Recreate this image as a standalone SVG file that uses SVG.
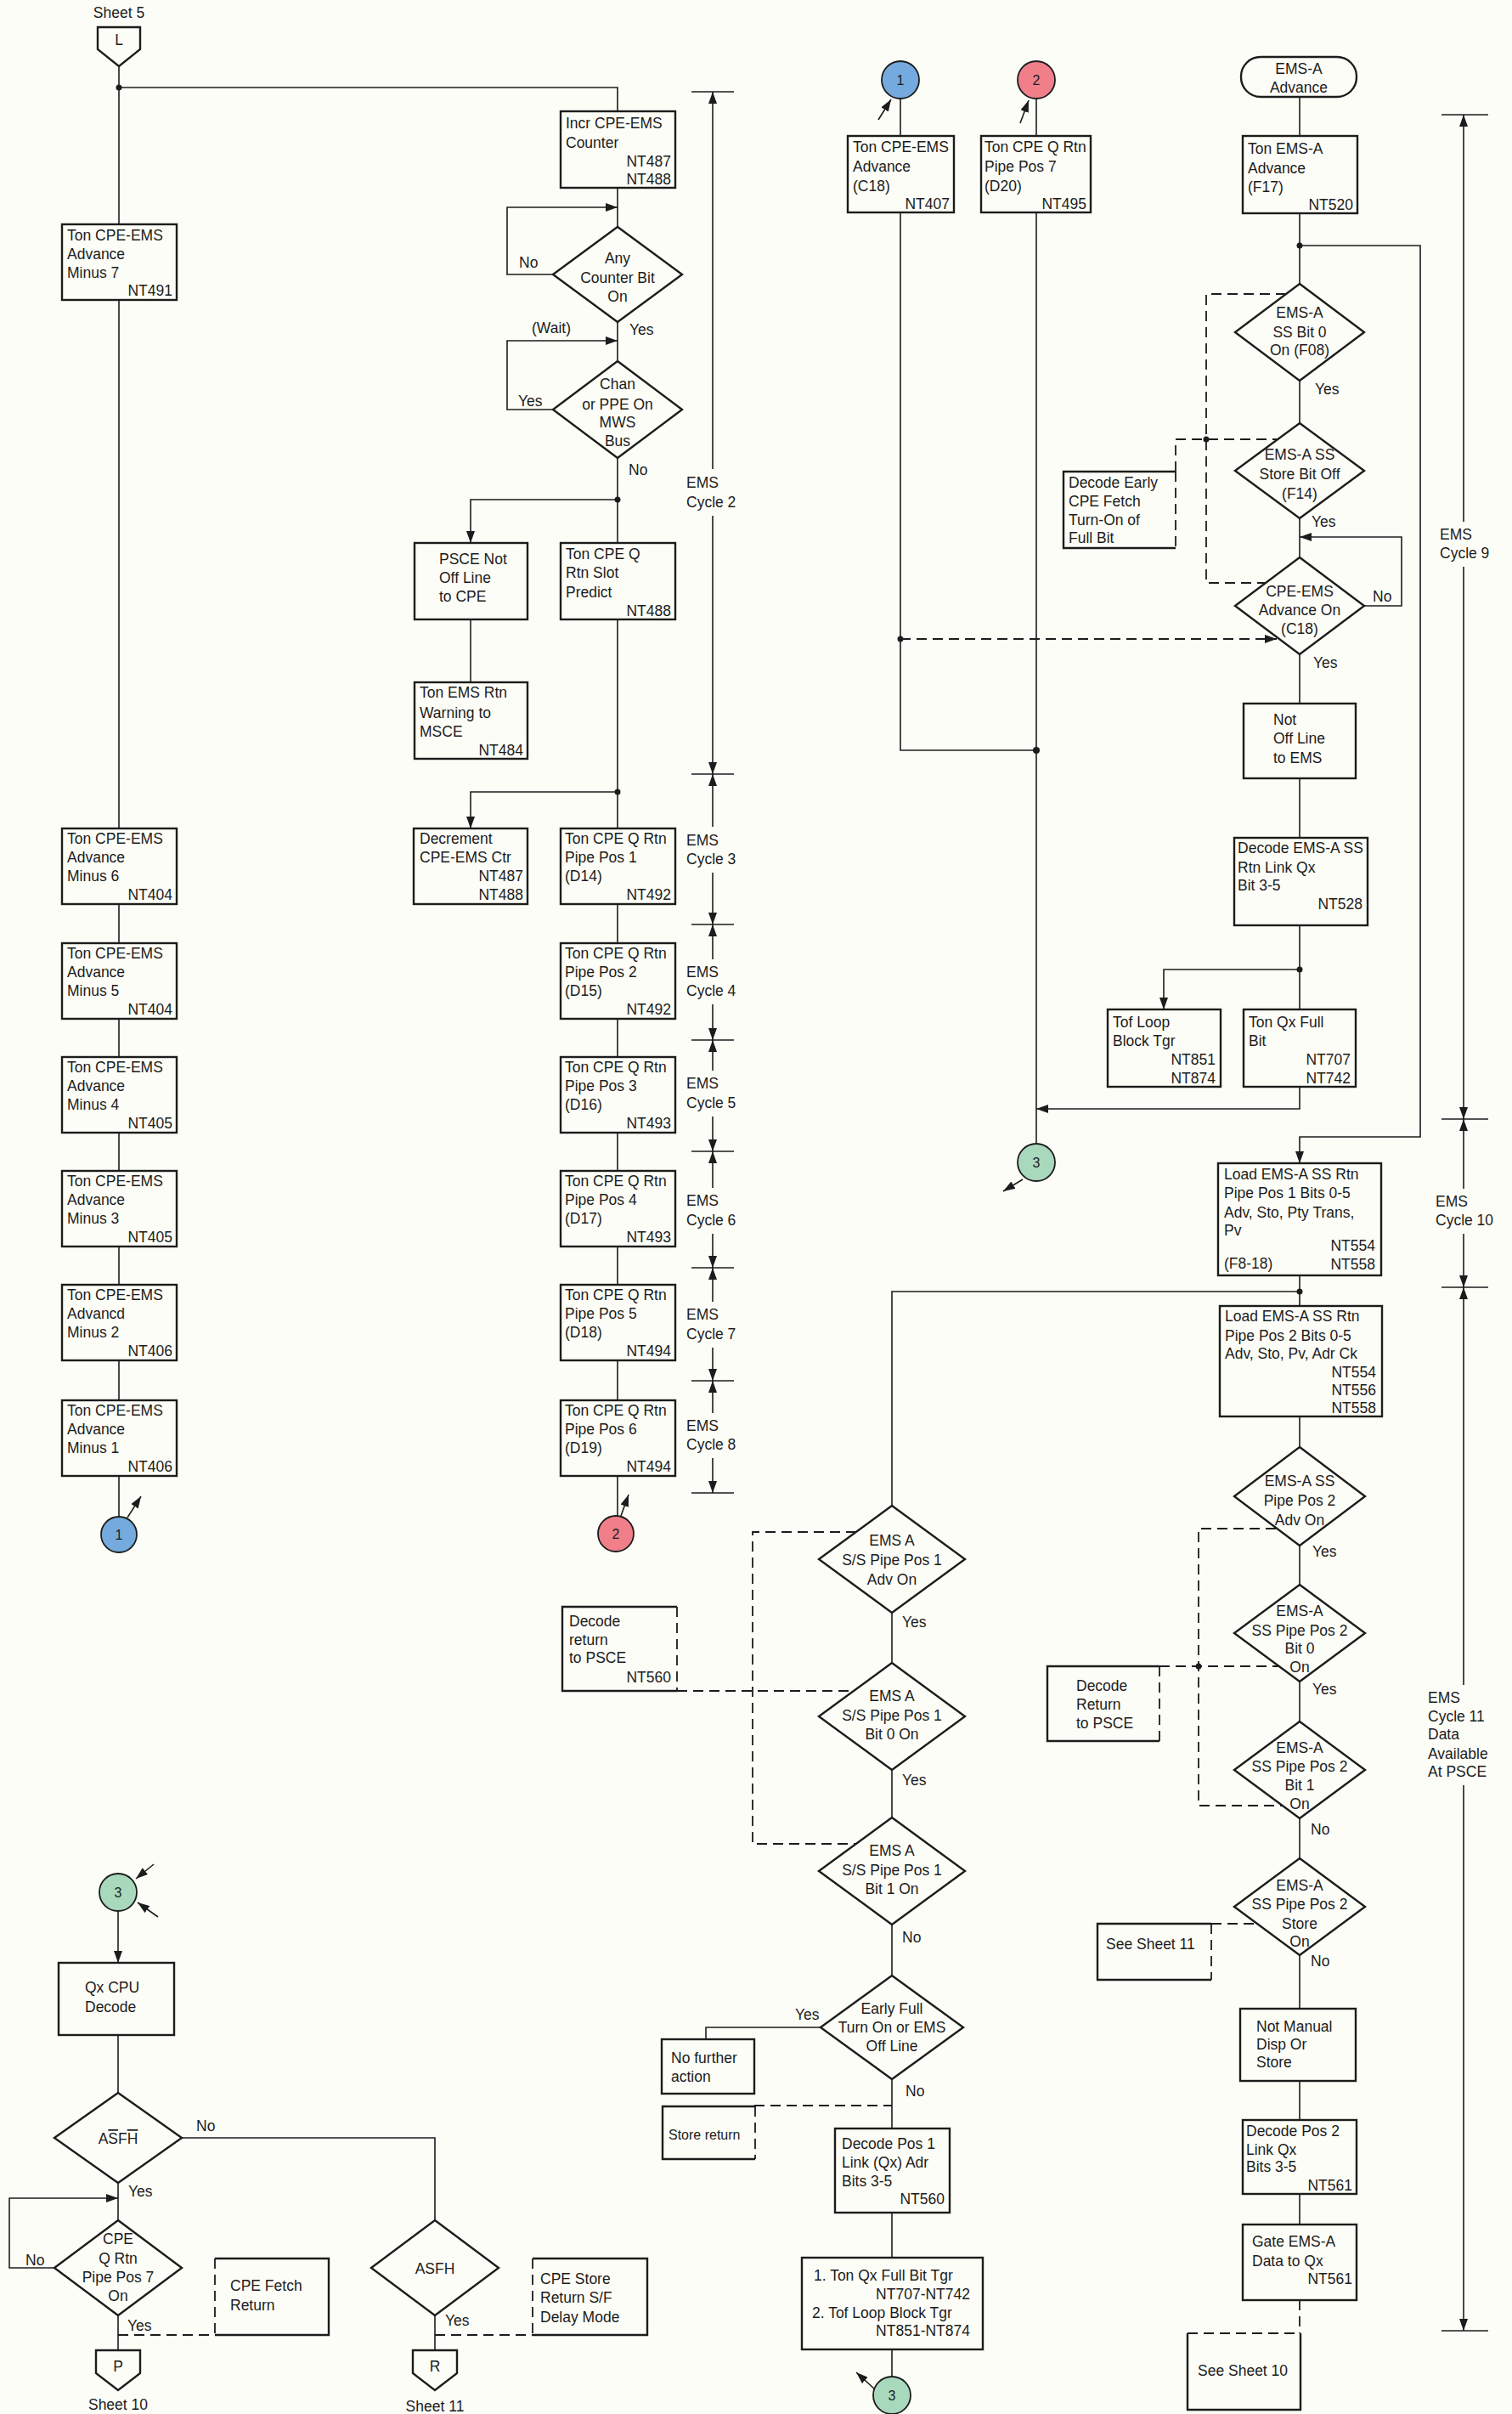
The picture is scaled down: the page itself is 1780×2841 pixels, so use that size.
<svg xmlns="http://www.w3.org/2000/svg" width="1780" height="2841" viewBox="0 0 1780 2841">
<defs>
<style>
.bx{fill:none;stroke:#1c1c1c;stroke-width:2.4}
.ln{fill:none;stroke:#1c1c1c;stroke-width:1.6}
.ds{fill:none;stroke:#1c1c1c;stroke-width:1.8;stroke-dasharray:12 7}
.t{font-family:"Liberation Sans",Arial,sans-serif;font-size:17.5px;fill:#1c1c1c}
.s{font-size:16px}
.e{text-anchor:end}
.m{text-anchor:middle}
.dot{fill:#1c1c1c}
.blue{fill:#74aade;stroke:#1c1c1c;stroke-width:1.8}
.red{fill:#f07f8a;stroke:#1c1c1c;stroke-width:1.8}
.green{fill:#a9d9bd;stroke:#1c1c1c;stroke-width:1.8}
</style>
<marker id="ah" viewBox="0 0 14 10" refX="14" refY="5" markerWidth="14" markerHeight="10" markerUnits="userSpaceOnUse" orient="auto"><path d="M0,0 L14,5 L0,10 z" fill="#1c1c1c"/></marker>
</defs>
<rect x="0" y="0" width="1780" height="2841" fill="#fdfdf7"/>

<g id="connectors">
<path class="ln" d="M140,78 V264"/>
<path class="ln" d="M140,103 H727 V131"/>
<circle class="dot" cx="140" cy="103" r="3.5"/>
<path class="ln" d="M140,353 V975 M140,1064 V1110 M140,1199 V1244 M140,1333 V1378 M140,1467 V1512 M140,1601 V1648 M140,1737 V1785"/>
<path class="ln" d="M150,1786 L166,1761" marker-end="url(#ah)"/>
<path class="ln" d="M727,221 V267"/>
<path class="ln" d="M651,323 H597 V244 H727" marker-end="url(#ah)"/>
<path class="ln" d="M727,379 V425"/>
<path class="ln" d="M651,482 H597 V401 H727" marker-end="url(#ah)"/>
<path class="ln" d="M727,539 V639"/>
<circle class="dot" cx="727" cy="588" r="3.5"/>
<path class="ln" d="M727,588 H554 V639" marker-end="url(#ah)"/>
<path class="ln" d="M554,729 V803"/>
<path class="ln" d="M727,729 V975"/>
<circle class="dot" cx="727" cy="932" r="3.5"/>
<path class="ln" d="M727,932 H554 V975" marker-end="url(#ah)"/>
<path class="ln" d="M727,1064 V1110 M727,1199 V1244 M727,1333 V1378 M727,1467 V1512 M727,1601 V1648 M727,1737 V1784"/>
<path class="ln" d="M731,1784 L740,1759" marker-end="url(#ah)"/>
<path class="ln" d="M814,108 H864 M814,911 H864 M814,1088 H864 M814,1224 H864 M814,1355 H864 M814,1492 H864 M814,1625 H864 M814,1757 H864"/>
<path class="ln" d="M839,552 V108" marker-end="url(#ah)"/>
<path class="ln" d="M839,607 V911" marker-end="url(#ah)"/>
<path class="ln" d="M839,973 V911" marker-end="url(#ah)"/>
<path class="ln" d="M839,1027 V1088" marker-end="url(#ah)"/>
<path class="ln" d="M839,1129 V1088" marker-end="url(#ah)"/>
<path class="ln" d="M839,1182 V1224" marker-end="url(#ah)"/>
<path class="ln" d="M839,1260 V1224" marker-end="url(#ah)"/>
<path class="ln" d="M839,1314 V1355" marker-end="url(#ah)"/>
<path class="ln" d="M839,1398 V1355" marker-end="url(#ah)"/>
<path class="ln" d="M839,1452 V1492" marker-end="url(#ah)"/>
<path class="ln" d="M839,1532 V1492" marker-end="url(#ah)"/>
<path class="ln" d="M839,1586 V1625" marker-end="url(#ah)"/>
<path class="ln" d="M839,1663 V1625" marker-end="url(#ah)"/>
<path class="ln" d="M839,1716 V1757" marker-end="url(#ah)"/>
<path class="ln" d="M1034,141 L1049,117" marker-end="url(#ah)"/>
<path class="ln" d="M1201,145 L1211,118" marker-end="url(#ah)"/>
<path class="ln" d="M1060,116 V160 M1220,116 V160"/>
<path class="ln" d="M1060,250 V883 H1220"/>
<path class="ln" d="M1220,250 V1346"/>
<circle class="dot" cx="1060" cy="752" r="3.5"/>
<circle class="dot" cx="1220" cy="883" r="4"/>
<path class="ds" d="M1060,752 H1503" marker-end="url(#ah)"/>
<path class="ln" d="M1530,1279 V1305 H1220" marker-end="url(#ah)"/>
<path class="ln" d="M1204,1388 L1181,1402" marker-end="url(#ah)"/>
<path class="ln" d="M1530,114 V160 M1530,251 V334 M1530,448 V498 M1530,610 V656 M1530,770 V828 M1530,916 V986 M1530,1089 V1188"/>
<circle class="dot" cx="1530" cy="289" r="3.5"/>
<path class="ln" d="M1530,289 H1672 V1338 H1530 V1369" marker-end="url(#ah)"/>
<path class="ln" d="M1606,713 H1650 V632 H1530" marker-end="url(#ah)"/>
<circle class="dot" cx="1530" cy="1141" r="3.5"/>
<path class="ln" d="M1530,1141 H1370 V1188" marker-end="url(#ah)"/>
<path class="ds" d="M1514,346 H1420 V686 H1490"/>
<path class="ds" d="M1384,555 V517 H1504"/>
<circle class="dot" cx="1420" cy="517" r="3.5"/>
<path class="ln" d="M1697,135 H1752 M1697,1317 H1752 M1697,1515 H1752 M1697,2743 H1752"/>
<path class="ln" d="M1723,614 V135" marker-end="url(#ah)"/>
<path class="ln" d="M1723,667 V1317" marker-end="url(#ah)"/>
<path class="ln" d="M1723,1399 V1317" marker-end="url(#ah)"/>
<path class="ln" d="M1723,1452 V1515" marker-end="url(#ah)"/>
<path class="ln" d="M1723,1983 V1515" marker-end="url(#ah)"/>
<path class="ln" d="M1723,2101 V2743" marker-end="url(#ah)"/>
<path class="ln" d="M1530,1501 V1537"/>
<circle class="dot" cx="1530" cy="1520" r="3.5"/>
<path class="ln" d="M1530,1520 H1050 V1772"/>
<path class="ln" d="M1530,1667 V1703 M1530,1819 V1865 M1530,1979 V2026 M1530,2140 V2187 M1530,2301 V2364 M1530,2449 V2495 M1530,2582 V2618"/>
<path class="ds" d="M1502,1799 H1411 V2125 H1509"/>
<path class="ds" d="M1365,1961 H1505"/>
<circle class="dot" cx="1411" cy="1961" r="3.5"/>
<path class="ds" d="M1426,2264 H1479"/>
<path class="ds" d="M1530,2707 V2746"/>
<path class="ln" d="M1050,1898 V1957 M1050,2083 V2139 M1050,2265 V2325 M1050,2447 V2505 M1050,2604 V2657 M1050,2765 V2797"/>
<path class="ds" d="M1008,1803 H886 V2170 H1008"/>
<path class="ds" d="M797,1990 H1005"/>
<path class="ln" d="M966,2386 H831 V2400"/>
<path class="ds" d="M888,2478 H1050"/>
<path class="ln" d="M1030,2812 L1008,2792" marker-end="url(#ah)"/>
<path class="ln" d="M181,2194 L160,2211" marker-end="url(#ah)"/>
<path class="ln" d="M186,2256 L162,2239" marker-end="url(#ah)"/>
<path class="ln" d="M139,2249 V2310" marker-end="url(#ah)"/>
<path class="ln" d="M139,2395 V2463 M139,2569 V2613 M139,2725 V2766"/>
<path class="ln" d="M64,2669 H11 V2587 H139" marker-end="url(#ah)"/>
<path class="ln" d="M214,2516 H512 V2613"/>
<path class="ln" d="M512,2725 V2766"/>
<path class="ds" d="M139,2748 H253"/>
<path class="ds" d="M512,2748 H627"/>
</g>

<g id="sheet5">
<text class="t m" x="140" y="21">Sheet 5</text>
<path class="bx" d="M115,32 H165 V58 L140,78 L115,58 Z"/>
<text class="t m" x="140" y="53">L</text>
</g>
<g id="minus7"><rect class="bx" x="73" y="264" width="135" height="89"/>
<text class="t" x="79" y="283">Ton CPE-EMS</text><text class="t" x="79" y="305">Advance</text><text class="t" x="79" y="327">Minus 7</text><text class="t e" x="203" y="348">NT491</text></g>
<g id="minus6"><rect class="bx" x="73" y="975" width="135" height="89"/>
<text class="t" x="79" y="993">Ton CPE-EMS</text><text class="t" x="79" y="1015">Advance</text><text class="t" x="79" y="1037">Minus 6</text><text class="t e" x="203" y="1059">NT404</text></g>
<g id="minus5"><rect class="bx" x="73" y="1110" width="135" height="89"/>
<text class="t" x="79" y="1128">Ton CPE-EMS</text><text class="t" x="79" y="1150">Advance</text><text class="t" x="79" y="1172">Minus 5</text><text class="t e" x="203" y="1194">NT404</text></g>
<g id="minus4"><rect class="bx" x="73" y="1244" width="135" height="89"/>
<text class="t" x="79" y="1262">Ton CPE-EMS</text><text class="t" x="79" y="1284">Advance</text><text class="t" x="79" y="1306">Minus 4</text><text class="t e" x="203" y="1328">NT405</text></g>
<g id="minus3"><rect class="bx" x="73" y="1378" width="135" height="89"/>
<text class="t" x="79" y="1396">Ton CPE-EMS</text><text class="t" x="79" y="1418">Advance</text><text class="t" x="79" y="1440">Minus 3</text><text class="t e" x="203" y="1462">NT405</text></g>
<g id="minus2"><rect class="bx" x="73" y="1512" width="135" height="89"/>
<text class="t" x="79" y="1530">Ton CPE-EMS</text><text class="t" x="79" y="1552">Advancd</text><text class="t" x="79" y="1574">Minus 2</text><text class="t e" x="203" y="1596">NT406</text></g>
<g id="minus1"><rect class="bx" x="73" y="1648" width="135" height="89"/>
<text class="t" x="79" y="1666">Ton CPE-EMS</text><text class="t" x="79" y="1688">Advance</text><text class="t" x="79" y="1710">Minus 1</text><text class="t e" x="203" y="1732">NT406</text></g>
<g id="conn1a"><circle class="blue" cx="140" cy="1806" r="21"/><text class="t m s" x="140" y="1812">1</text></g>

<g id="incr"><rect class="bx" x="660" y="131" width="135" height="90"/>
<text class="t" x="666" y="151">Incr CPE-EMS</text><text class="t" x="666" y="174">Counter</text><text class="t e" x="790" y="196">NT487</text><text class="t e" x="790" y="217">NT488</text></g>
<g id="anyctr"><path class="bx" d="M727,267 L803,323 L727,379 L651,323 Z"/>
<text class="t m" x="727" y="310">Any</text><text class="t m" x="727" y="333">Counter Bit</text><text class="t m" x="727" y="355">On</text>
<text class="t" x="611" y="315">No</text><text class="t" x="741" y="394">Yes</text><text class="t m" x="649" y="392">(Wait)</text></g>
<g id="chan"><path class="bx" d="M727,425 L803,482 L727,539 L651,482 Z"/>
<text class="t m" x="727" y="458">Chan</text><text class="t m" x="727" y="482">or PPE On</text><text class="t m" x="727" y="503">MWS</text><text class="t m" x="727" y="525">Bus</text>
<text class="t" x="610" y="478">Yes</text><text class="t" x="740" y="559">No</text></g>
<g id="psce"><rect class="bx" x="488" y="639" width="133" height="90"/>
<text class="t" x="517" y="664">PSCE Not</text><text class="t" x="517" y="686">Off Line</text><text class="t" x="517" y="708">to CPE</text></g>
<g id="slot"><rect class="bx" x="660" y="639" width="135" height="90"/>
<text class="t" x="666" y="658">Ton CPE Q</text><text class="t" x="666" y="680">Rtn Slot</text><text class="t" x="666" y="703">Predict</text><text class="t e" x="790" y="725">NT488</text></g>
<g id="emsrtn"><rect class="bx" x="488" y="803" width="133" height="90"/>
<text class="t" x="494" y="821">Ton EMS Rtn</text><text class="t" x="494" y="845">Warning to</text><text class="t" x="494" y="867">MSCE</text><text class="t e" x="616" y="889">NT484</text></g>
<g id="decr"><rect class="bx" x="487" y="975" width="134" height="89"/>
<text class="t" x="494" y="993">Decrement</text><text class="t" x="494" y="1015">CPE-EMS Ctr</text><text class="t e" x="616" y="1037">NT487</text><text class="t e" x="616" y="1059">NT488</text></g>
<g id="pp1"><rect class="bx" x="660" y="975" width="135" height="89"/>
<text class="t" x="665" y="993">Ton CPE Q Rtn</text><text class="t" x="665" y="1015">Pipe Pos 1</text><text class="t" x="665" y="1037">(D14)</text><text class="t e" x="790" y="1059">NT492</text></g>
<g id="pp2"><rect class="bx" x="660" y="1110" width="135" height="89"/>
<text class="t" x="665" y="1128">Ton CPE Q Rtn</text><text class="t" x="665" y="1150">Pipe Pos 2</text><text class="t" x="665" y="1172">(D15)</text><text class="t e" x="790" y="1194">NT492</text></g>
<g id="pp3"><rect class="bx" x="660" y="1244" width="135" height="89"/>
<text class="t" x="665" y="1262">Ton CPE Q Rtn</text><text class="t" x="665" y="1284">Pipe Pos 3</text><text class="t" x="665" y="1306">(D16)</text><text class="t e" x="790" y="1328">NT493</text></g>
<g id="pp4"><rect class="bx" x="660" y="1378" width="135" height="89"/>
<text class="t" x="665" y="1396">Ton CPE Q Rtn</text><text class="t" x="665" y="1418">Pipe Pos 4</text><text class="t" x="665" y="1440">(D17)</text><text class="t e" x="790" y="1462">NT493</text></g>
<g id="pp5"><rect class="bx" x="660" y="1512" width="135" height="89"/>
<text class="t" x="665" y="1530">Ton CPE Q Rtn</text><text class="t" x="665" y="1552">Pipe Pos 5</text><text class="t" x="665" y="1574">(D18)</text><text class="t e" x="790" y="1596">NT494</text></g>
<g id="pp6"><rect class="bx" x="660" y="1648" width="135" height="89"/>
<text class="t" x="665" y="1666">Ton CPE Q Rtn</text><text class="t" x="665" y="1688">Pipe Pos 6</text><text class="t" x="665" y="1710">(D19)</text><text class="t e" x="790" y="1732">NT494</text></g>
<g id="conn2a"><circle class="red" cx="725" cy="1805" r="21"/><text class="t m s" x="725" y="1811">2</text></g>
<g id="cycles-left">
<text class="t" x="808" y="574">EMS</text><text class="t" x="808" y="597">Cycle 2</text>
<text class="t" x="808" y="995">EMS</text><text class="t" x="808" y="1017">Cycle 3</text>
<text class="t" x="808" y="1150">EMS</text><text class="t" x="808" y="1172">Cycle 4</text>
<text class="t" x="808" y="1281">EMS</text><text class="t" x="808" y="1304">Cycle 5</text>
<text class="t" x="808" y="1419">EMS</text><text class="t" x="808" y="1442">Cycle 6</text>
<text class="t" x="808" y="1553">EMS</text><text class="t" x="808" y="1576">Cycle 7</text>
<text class="t" x="808" y="1684">EMS</text><text class="t" x="808" y="1706">Cycle 8</text>
</g>

<g id="conn1b"><circle class="blue" cx="1060" cy="94" r="22"/><text class="t m s" x="1060" y="100">1</text></g>
<g id="conn2b"><circle class="red" cx="1220" cy="94" r="22"/><text class="t m s" x="1220" y="100">2</text></g>
<g id="c18"><rect class="bx" x="998" y="160" width="125" height="90"/>
<text class="t" x="1004" y="179">Ton CPE-EMS</text><text class="t" x="1004" y="202">Advance</text><text class="t" x="1004" y="225">(C18)</text><text class="t e" x="1118" y="246">NT407</text></g>
<g id="d20"><rect class="bx" x="1155" y="160" width="129" height="90"/>
<text class="t" x="1159" y="179">Ton CPE Q Rtn</text><text class="t" x="1159" y="202">Pipe Pos 7</text><text class="t" x="1159" y="225">(D20)</text><text class="t e" x="1279" y="246">NT495</text></g>
<g id="conn3a"><circle class="green" cx="1220" cy="1368" r="22"/><text class="t m s" x="1220" y="1374">3</text></g>

<g id="emsaadv"><rect class="bx" x="1461" y="67" width="136" height="47" rx="23"/>
<text class="t m" x="1529" y="87">EMS-A</text><text class="t m" x="1529" y="109">Advance</text></g>
<g id="tonemsa"><rect class="bx" x="1463" y="160" width="135" height="91"/>
<text class="t" x="1469" y="181">Ton EMS-A</text><text class="t" x="1469" y="204">Advance</text><text class="t" x="1469" y="226">(F17)</text><text class="t e" x="1593" y="247">NT520</text></g>
<g id="bit0"><path class="bx" d="M1530,334 L1606,391 L1530,448 L1454,391 Z"/>
<text class="t m" x="1530" y="374">EMS-A</text><text class="t m" x="1530" y="397">SS Bit 0</text><text class="t m" x="1530" y="418">On (F08)</text>
<text class="t" x="1548" y="464">Yes</text></g>
<g id="storebit"><path class="bx" d="M1530,498 L1606,554 L1530,610 L1454,554 Z"/>
<text class="t m" x="1530" y="541">EMS-A SS</text><text class="t m" x="1530" y="564">Store Bit Off</text><text class="t m" x="1530" y="587">(F14)</text>
<text class="t" x="1544" y="620">Yes</text></g>
<g id="cpeadv"><path class="bx" d="M1530,656 L1606,713 L1530,770 L1454,713 Z"/>
<text class="t m" x="1530" y="702">CPE-EMS</text><text class="t m" x="1530" y="724">Advance On</text><text class="t m" x="1530" y="746">(C18)</text>
<text class="t" x="1616" y="708">No</text><text class="t" x="1546" y="786">Yes</text></g>
<g id="early"><path class="bx" d="M1384,555 H1252 V645 H1384"/><path class="ds" d="M1384,555 V645"/>
<text class="t" x="1258" y="574">Decode Early</text><text class="t" x="1258" y="596">CPE Fetch</text><text class="t" x="1258" y="618">Turn-On of</text><text class="t" x="1258" y="639">Full Bit</text></g>
<g id="notoff"><rect class="bx" x="1464" y="828" width="132" height="88"/>
<text class="t" x="1499" y="853">Not</text><text class="t" x="1499" y="875">Off Line</text><text class="t" x="1499" y="898">to EMS</text></g>
<g id="decodeems"><rect class="bx" x="1453" y="986" width="157" height="103"/>
<text class="t" x="1457" y="1004" textLength="148" lengthAdjust="spacingAndGlyphs">Decode EMS-A SS</text><text class="t" x="1457" y="1027">Rtn Link Qx</text><text class="t" x="1457" y="1048">Bit 3-5</text><text class="t e" x="1604" y="1070">NT528</text></g>
<g id="tofloop"><rect class="bx" x="1304" y="1188" width="133" height="91"/>
<text class="t" x="1310" y="1209">Tof Loop</text><text class="t" x="1310" y="1231">Block Tgr</text><text class="t e" x="1431" y="1253">NT851</text><text class="t e" x="1431" y="1275">NT874</text></g>
<g id="tonqx"><rect class="bx" x="1464" y="1188" width="132" height="91"/>
<text class="t" x="1470" y="1209">Ton Qx Full</text><text class="t" x="1470" y="1231">Bit</text><text class="t e" x="1590" y="1253">NT707</text><text class="t e" x="1590" y="1275">NT742</text></g>
<g id="cycles-right">
<text class="t" x="1695" y="635">EMS</text><text class="t" x="1695" y="657">Cycle 9</text>
<text class="t" x="1690" y="1420">EMS</text><text class="t" x="1690" y="1442">Cycle 10</text>
<text class="t" x="1681" y="2004">EMS</text><text class="t" x="1681" y="2026">Cycle 11</text><text class="t" x="1681" y="2047">Data</text><text class="t" x="1681" y="2070">Available</text><text class="t" x="1681" y="2091">At PSCE</text>
</g>

<g id="load1"><rect class="bx" x="1434" y="1369" width="192" height="132"/>
<text class="t" x="1441" y="1388">Load EMS-A SS Rtn</text><text class="t" x="1441" y="1410">Pipe Pos 1 Bits 0-5</text><text class="t" x="1441" y="1433">Adv, Sto, Pty Trans,</text><text class="t" x="1441" y="1454">Pv</text>
<text class="t e" x="1619" y="1472">NT554</text><text class="t" x="1441" y="1493">(F8-18)</text><text class="t e" x="1619" y="1494">NT558</text></g>
<g id="load2"><rect class="bx" x="1436" y="1537" width="191" height="130"/>
<text class="t" x="1442" y="1555">Load EMS-A SS Rtn</text><text class="t" x="1442" y="1578">Pipe Pos 2 Bits 0-5</text><text class="t" x="1442" y="1599">Adv, Sto, Pv, Adr Ck</text>
<text class="t e" x="1620" y="1621">NT554</text><text class="t e" x="1620" y="1642">NT556</text><text class="t e" x="1620" y="1663">NT558</text></g>
<g id="p2adv"><path class="bx" d="M1530,1703 L1607,1761 L1530,1819 L1453,1761 Z"/>
<text class="t m" x="1530" y="1749">EMS-A SS</text><text class="t m" x="1530" y="1772">Pipe Pos 2</text><text class="t m" x="1530" y="1795">Adv On</text>
<text class="t" x="1545" y="1832">Yes</text></g>
<g id="p2bit0"><path class="bx" d="M1530,1865 L1607,1922 L1530,1979 L1453,1922 Z"/>
<text class="t m" x="1530" y="1902">EMS-A</text><text class="t m" x="1530" y="1925">SS Pipe Pos 2</text><text class="t m" x="1530" y="1946">Bit 0</text><text class="t m" x="1530" y="1968">On</text>
<text class="t" x="1545" y="1994">Yes</text></g>
<g id="p2bit1"><path class="bx" d="M1530,2026 L1607,2083 L1530,2140 L1453,2083 Z"/>
<text class="t m" x="1530" y="2063">EMS-A</text><text class="t m" x="1530" y="2085">SS Pipe Pos 2</text><text class="t m" x="1530" y="2107">Bit 1</text><text class="t m" x="1530" y="2129">On</text>
<text class="t" x="1543" y="2159">No</text></g>
<g id="p2store"><path class="bx" d="M1530,2187 L1607,2244 L1530,2301 L1453,2244 Z"/>
<text class="t m" x="1530" y="2225">EMS-A</text><text class="t m" x="1530" y="2247">SS Pipe Pos 2</text><text class="t m" x="1530" y="2270">Store</text><text class="t m" x="1530" y="2291">On</text>
<text class="t" x="1543" y="2314">No</text></g>
<g id="decret2"><path class="bx" d="M1365,1961 H1233 V2049 H1365"/><path class="ds" d="M1365,1961 V2049"/>
<text class="t" x="1267" y="1990">Decode</text><text class="t" x="1267" y="2012">Return</text><text class="t" x="1267" y="2034">to PSCE</text></g>
<g id="see11"><path class="bx" d="M1426,2264 H1292 V2330 H1426"/><path class="ds" d="M1426,2264 V2330"/>
<text class="t" x="1302" y="2294">See Sheet 11</text></g>
<g id="notman"><rect class="bx" x="1460" y="2364" width="136" height="85"/>
<text class="t" x="1479" y="2391">Not Manual</text><text class="t" x="1479" y="2412">Disp Or</text><text class="t" x="1479" y="2433">Store</text></g>
<g id="decpos2"><rect class="bx" x="1463" y="2495" width="134" height="87"/>
<text class="t" x="1467" y="2514">Decode Pos 2</text><text class="t" x="1467" y="2536">Link Qx</text><text class="t" x="1467" y="2556">Bits 3-5</text><text class="t e" x="1592" y="2578">NT561</text></g>
<g id="gate"><rect class="bx" x="1463" y="2618" width="134" height="89"/>
<text class="t" x="1474" y="2644">Gate EMS-A</text><text class="t" x="1474" y="2667">Data to Qx</text><text class="t e" x="1592" y="2688">NT561</text></g>
<g id="see10"><path class="bx" d="M1531,2746 V2836 H1398 V2746"/><path class="ds" d="M1398,2746 H1531"/>
<text class="t" x="1410" y="2796">See Sheet 10</text></g>

<g id="a1"><path class="bx" d="M1050,1772 L1136,1835 L1050,1898 L964,1835 Z"/>
<text class="t m" x="1050" y="1819">EMS A</text><text class="t m" x="1050" y="1842">S/S Pipe Pos 1</text><text class="t m" x="1050" y="1865">Adv On</text>
<text class="t" x="1062" y="1915">Yes</text></g>
<g id="a2"><path class="bx" d="M1050,1957 L1136,2020 L1050,2083 L964,2020 Z"/>
<text class="t m" x="1050" y="2002">EMS A</text><text class="t m" x="1050" y="2025">S/S Pipe Pos 1</text><text class="t m" x="1050" y="2047">Bit 0 On</text>
<text class="t" x="1062" y="2101">Yes</text></g>
<g id="a3"><path class="bx" d="M1050,2139 L1136,2202 L1050,2265 L964,2202 Z"/>
<text class="t m" x="1050" y="2184">EMS A</text><text class="t m" x="1050" y="2207">S/S Pipe Pos 1</text><text class="t m" x="1050" y="2229">Bit 1 On</text>
<text class="t" x="1062" y="2286">No</text></g>
<g id="a4"><path class="bx" d="M1050,2325 L1134,2386 L1050,2447 L966,2386 Z"/>
<text class="t m" x="1050" y="2370">Early Full</text><text class="t m" x="1050" y="2392">Turn On or EMS</text><text class="t m" x="1050" y="2414">Off Line</text>
<text class="t" x="936" y="2377">Yes</text><text class="t" x="1066" y="2467">No</text></g>
<g id="decret1"><path class="bx" d="M797,1891 H662 V1990 H797"/><path class="ds" d="M797,1891 V1990"/>
<text class="t" x="670" y="1914">Decode</text><text class="t" x="670" y="1936">return</text><text class="t" x="670" y="1957">to PSCE</text><text class="t e" x="790" y="1980">NT560</text></g>
<g id="nofurther"><rect class="bx" x="779" y="2400" width="109" height="64"/>
<text class="t" x="790" y="2428">No further</text><text class="t" x="790" y="2450">action</text></g>
<g id="storeret"><path class="bx" d="M889,2479 H780 V2541 H889"/><path class="ds" d="M889,2479 V2541"/>
<text class="t s" x="787" y="2518">Store return</text></g>
<g id="decpos1"><rect class="bx" x="983" y="2505" width="135" height="99"/>
<text class="t" x="991" y="2529">Decode Pos 1</text><text class="t" x="991" y="2551">Link (Qx) Adr</text><text class="t" x="991" y="2573">Bits 3-5</text><text class="t e" x="1112" y="2594">NT560</text></g>
<g id="final"><rect class="bx" x="944" y="2657" width="213" height="108"/>
<text class="t" x="958" y="2684">1. Ton Qx Full Bit Tgr</text><text class="t e" x="1142" y="2706">NT707-NT742</text><text class="t" x="956" y="2728">2. Tof Loop Block Tgr</text><text class="t e" x="1142" y="2749">NT851-NT874</text></g>
<g id="conn3c"><circle class="green" cx="1050" cy="2819" r="22"/><text class="t m s" x="1050" y="2825">3</text></g>

<g id="conn3b"><circle class="green" cx="139" cy="2227" r="22"/><text class="t m s" x="139" y="2233">3</text></g>
<g id="qxcpu"><rect class="bx" x="69" y="2310" width="136" height="85"/>
<text class="t" x="100" y="2345">Qx CPU</text><text class="t" x="100" y="2368">Decode</text></g>
<g id="asfhbar"><path class="bx" d="M139,2463 L214,2516 L139,2569 L64,2516 Z"/>
<text class="t m" x="139" y="2523">A<tspan style="text-decoration:overline">S</tspan>F<tspan style="text-decoration:overline">H</tspan></text>
<text class="t" x="231" y="2508">No</text><text class="t" x="151" y="2585">Yes</text></g>
<g id="cpeqrtn"><path class="bx" d="M139,2613 L214,2669 L139,2725 L64,2669 Z"/>
<text class="t m" x="139" y="2641">CPE</text><text class="t m" x="139" y="2664">Q Rtn</text><text class="t m" x="139" y="2686">Pipe Pos 7</text><text class="t m" x="139" y="2708">On</text>
<text class="t" x="30" y="2666">No</text><text class="t" x="150" y="2743">Yes</text></g>
<g id="fetchret"><path class="bx" d="M253,2658 H387 V2748 H253"/><path class="ds" d="M253,2658 V2748"/>
<text class="t" x="271" y="2696">CPE Fetch</text><text class="t" x="271" y="2719">Return</text></g>
<g id="offP"><path class="bx" d="M113,2766 H165 V2793 L139,2813 L113,2793 Z"/>
<text class="t m" x="139" y="2791">P</text><text class="t m" x="139" y="2836">Sheet 10</text></g>
<g id="asfh"><path class="bx" d="M512,2613 L587,2669 L512,2725 L437,2669 Z"/>
<text class="t m" x="512" y="2676">ASFH</text><text class="t" x="524" y="2737">Yes</text></g>
<g id="storeS"><path class="bx" d="M627,2658 H762 V2748 H627"/><path class="ds" d="M627,2658 V2748"/>
<text class="t" x="636" y="2688">CPE Store</text><text class="t" x="636" y="2710">Return S/F</text><text class="t" x="636" y="2733">Delay Mode</text></g>
<g id="offR"><path class="bx" d="M486,2766 H538 V2793 L512,2813 L486,2793 Z"/>
<text class="t m" x="512" y="2791">R</text><text class="t m" x="512" y="2838">Sheet 11</text></g>
</svg>
